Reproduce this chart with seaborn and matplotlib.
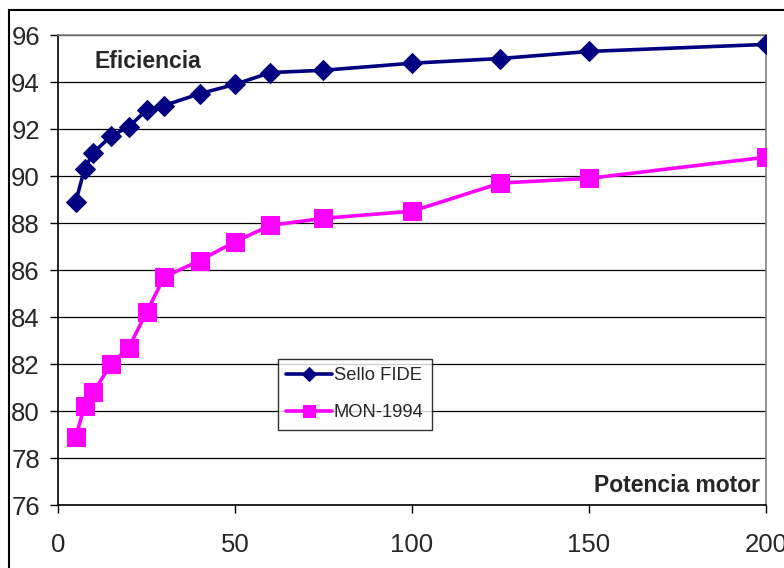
import matplotlib
matplotlib.use("Agg")
import matplotlib.pyplot as plt
from matplotlib.patches import Rectangle
import seaborn as sns
import pandas as pd

# Data
potencia = [5, 7.5, 10, 15, 20, 25, 30, 40, 50, 60, 75, 100, 125, 150, 200]
sello_fide = [88.9, 90.3, 91.0, 91.7, 92.1, 92.8, 93.0, 93.5, 93.9, 94.4, 94.5, 94.8, 95.0, 95.3, 95.6]
mon_1994 = [78.9, 80.2, 80.8, 82.0, 82.7, 84.2, 85.7, 86.4, 87.2, 87.9, 88.2, 88.5, 89.7, 89.9, 90.8]
series_names = ["Sello FIDE", "MON-1994"]
x_ticks = [0, 50, 100, 150, 200]
y_ticks = [76, 78, 80, 82, 84, 86, 88, 90, 92, 94, 96]

sns.set_theme(style="white")
plt.rcParams['font.family'] = ['Liberation Sans', 'DejaVu Sans']

fig = plt.figure(figsize=(7.84, 5.68), dpi=100)
ax = fig.add_axes([58/784, 1-505/568, (766-58)/784, (505-35)/568])

df = pd.DataFrame({"x": potencia, "fide": sello_fide, "mon": mon_1994})
sns.lineplot(data=df, x="x", y="fide", ax=ax, color="#000080", lw=2.6,
             marker="D", markersize=10.5, markeredgecolor="#000080",
             label=series_names[0], zorder=4)
sns.lineplot(data=df, x="x", y="mon", ax=ax, color="#FF00FF", lw=2.6,
             marker="s", markersize=12.5, markeredgecolor="#FF00FF",
             label=series_names[1], zorder=4)

ax.set_xlim(0, 200)
ax.set_ylim(76, 96)
ax.set_xticks(x_ticks)
ax.set_yticks(y_ticks)
ax.set_xticklabels([str(t) for t in x_ticks])
ax.set_yticklabels([str(t) for t in y_ticks])
ax.set_xlabel("")
ax.set_ylabel("")

ax.yaxis.grid(True, color="black", lw=0.9)
ax.xaxis.grid(False)
ax.set_axisbelow(True)

for s in ["left", "bottom"]:
    ax.spines[s].set_color("black")
    ax.spines[s].set_linewidth(1.2)
for s in ["top", "right"]:
    ax.spines[s].set_color("#808080")
    ax.spines[s].set_linewidth(1.2)
ax.spines["top"].set_zorder(2.5)

ax.tick_params(axis="y", direction="out", length=6, width=1, color="black",
               labelsize=18.5, pad=7, left=True)
ax.tick_params(axis="x", direction="out", length=6, width=1, color="black",
               labelsize=18.5, pad=14, bottom=True)

ax.text((95-58)/708, 1-(62-35)/470, "Eficiencia", transform=ax.transAxes,
        fontsize=16.5, fontweight="bold", ha="left", va="center")
ax.text((760-58)/708, 1-(485-35)/470, "Potencia motor", transform=ax.transAxes,
        fontsize=16.5, fontweight="bold", ha="right", va="center")

leg = ax.legend(loc="upper left", bbox_to_anchor=((278-58)/708, 1-(359-35)/470),
                borderaxespad=0, frameon=True, fancybox=False, fontsize=13.2,
                handlelength=2.5, handletextpad=0.1, borderpad=0.45,
                labelspacing=1.1, markerscale=0.65)
leg.get_frame().set_edgecolor("black")
leg.get_frame().set_linewidth(1.0)
leg.get_frame().set_facecolor("white")
leg.set_zorder(5)

fig.patches.append(Rectangle((9/784, -0.1), 1.2, 1.1-10/568, fill=False,
                             edgecolor="black", lw=1.5, transform=fig.transFigure))

fig.savefig("out.png", dpi=100)
